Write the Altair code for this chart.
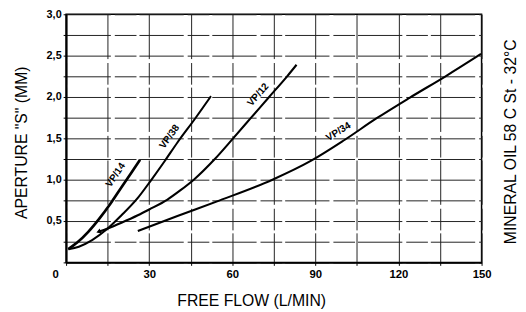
import altair as alt
import pandas as pd

# ---- data ----
vp14_x = [0.8, 4, 8, 12, 16, 20, 23.5, 26.7]
vp14_y = [0.16, 0.24, 0.37, 0.53, 0.71, 0.91, 1.08, 1.24]

vp38_x = [0.8, 4.6, 9.4, 14.7, 20, 25.9, 30.6, 35.5, 40.2, 46.6, 52.3]
vp38_y = [0.16, 0.19, 0.27, 0.40, 0.57, 0.78, 0.99, 1.22, 1.45, 1.74, 2.01]

vp12_x = [11.7, 15, 20, 25.9, 30, 36.6, 41.2, 46.1, 53.7, 60.3, 66.8, 73.3, 79.8, 83.2]
vp12_y = [0.37, 0.41, 0.48, 0.57, 0.64, 0.76, 0.87, 1.0, 1.25, 1.5, 1.75, 2.0, 2.25, 2.39]

vp34_x = [25.9, 40.2, 55.5, 74.5, 88.5, 100.5, 112, 124, 137, 149.8]
vp34_y = [0.38, 0.56, 0.75, 1.0, 1.23, 1.48, 1.74, 1.99, 2.25, 2.52]

series_names = ["VP/14", "VP/38", "VP/12", "VP/34"]

# curve label anchors (on the curves) and their slope angles
label_x = [20.8, 40.2, 72.0, 100.2]
label_y = [0.99, 1.45, 1.95, 1.48]
label_angle = [304, 306, 311, 328]

x_ticks = [0, 15, 30, 45, 60, 75, 90, 105, 120, 135, 150]
y_ticks = [0, 0.25, 0.5, 0.75, 1.0, 1.25, 1.5, 1.75, 2.0, 2.25, 2.5, 2.75, 3.0]

x_title = "FREE FLOW (L/MIN)"
y_title = 'APERTURE "S" (MM)'
right_title = "MINERAL OIL 58 C St - 32°C"

# ---- build table ----
rows = []
for name, xs, ys in zip(series_names, [vp14_x, vp38_x, vp12_x, vp34_x],
                        [vp14_y, vp38_y, vp12_y, vp34_y]):
    for i, (xv, yv) in enumerate(zip(xs, ys)):
        rows.append({"series": name, "x": xv, "y": yv, "i": i})
df = pd.DataFrame(rows)

lab_df = pd.DataFrame({"series": series_names, "x": label_x, "y": label_y,
                       "angle": label_angle})

arrow_df = pd.DataFrame({"x": [vp12_x[0]], "y": [vp12_y[0]]})

XS = alt.Scale(domain=[0, 150], nice=False)
YS = alt.Scale(domain=[0, 3], nice=False)

FONT = "Liberation Sans, Arial, Helvetica, sans-serif"
GRID_DASH = [45, 4, 22, 3]

x_axis = alt.Axis(
    values=x_ticks,
    labelExpr="datum.value % 30 == 0 ? datum.label : ''",
    labelFont=FONT, labelFontWeight="bold", labelFontSize=11.5, labelColor="black",
    labelPadding=3, labelFlush=False, labelOverlap=False,
    labelOffset={"condition": {"test": "datum.value == 0", "value": -11}, "value": 0},
    tickSize=3, tickColor="black", tickWidth=1,
    domainColor="black", domainWidth=2,
    grid=True, gridColor="#222", gridWidth=1, gridDash=GRID_DASH,
    title=x_title, titleFont=FONT, titleFontSize=16, titleFontWeight="normal",
    titleColor="black", titleX=188, titleY=44, titleAlign="center",
    titleBaseline="alphabetic",
)

y_axis = alt.Axis(
    values=y_ticks,
    labelExpr="datum.value > 0 && (datum.value * 2) % 1 == 0 ? replace(format(datum.value, '.1f'), '.', ',') : ''",
    labelFont=FONT, labelFontWeight="bold", labelFontSize=11, labelColor="black",
    labelPadding=2, labelFlush=False, labelOverlap=False,
    tickSize=3, tickColor="black", tickWidth=1,
    domainColor="black", domainWidth=2,
    grid=True, gridColor="#222", gridWidth=1, gridDash=GRID_DASH,
    title=y_title, titleFont=FONT, titleFontSize=16, titleFontWeight="normal",
    titleColor="black", titleAngle=270, titleX=-40, titleY=130, titleAlign="center",
    titleBaseline="alphabetic",
)

X_ENC = alt.X("x:Q", scale=XS, axis=x_axis)

lines = alt.Chart(df).mark_line(color="black", interpolate="monotone").encode(
    x=X_ENC,
    y=alt.Y("y:Q", scale=YS, axis=y_axis),
    detail="series:N",
    order="i:Q",
    strokeWidth=alt.condition("datum.series == 'VP/14'", alt.value(2.7), alt.value(2.1)),
)

label_layers = []
for k in range(len(series_names)):
    one = lab_df.iloc[[k]]
    label_layers.append(
        alt.Chart(one).mark_text(
            font=FONT, fontWeight="bold", fontSize=10, color="black",
            angle=label_angle[k], dy=-5, baseline="bottom", align="center",
        ).encode(
            x=X_ENC,
            y=alt.Y("y:Q", scale=YS, axis=None),
            text="series:N",
        )
    )

arrow = alt.Chart(arrow_df).mark_point(
    shape="triangle-left", filled=True, color="black", size=28, angle=340, opacity=1
).encode(
    x=X_ENC,
    y=alt.Y("y:Q", scale=YS, axis=None),
)

right = alt.Chart(df).mark_point(opacity=0).encode(
    x=X_ENC,
    y=alt.Y("y:Q", scale=YS, axis=alt.Axis(
        orient="right", labels=False, ticks=False, domain=False, grid=False,
        title=right_title, titleFont=FONT, titleFontSize=16, titleFontWeight="normal",
        titleColor="black", titleAngle=270, titleX=34.5, titleY=129,
        titleAlign="center", titleBaseline="alphabetic",
    )),
)

chart = alt.layer(lines, *label_layers, arrow, right).resolve_scale(
    y="independent"
).properties(
    width=422, height=252,
    padding={"left": 59, "top": 4, "right": 37, "bottom": 48},
    autosize=alt.AutoSizeParams(type="none"),
    background="white",
).configure_view(stroke="black", strokeWidth=1.5)

chart.save("out.html", embed_options={"renderer": "svg", "actions": False})
